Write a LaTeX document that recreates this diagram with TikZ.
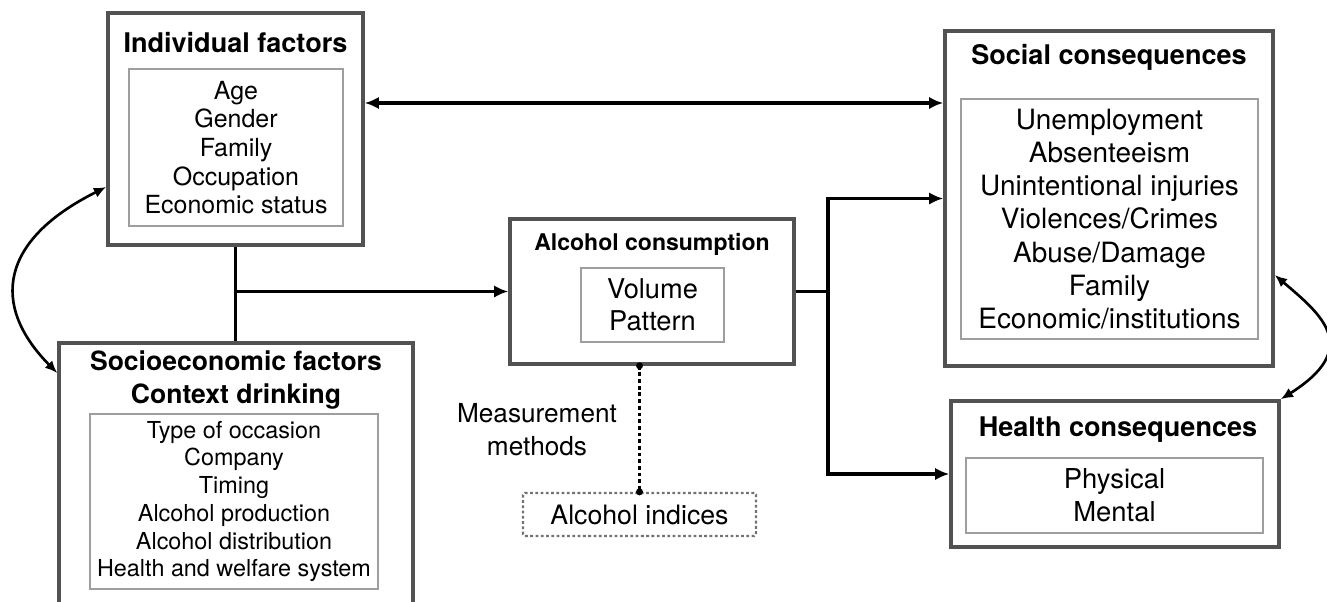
\documentclass[tikz,border=0pt]{standalone}
\usepackage{fontspec}
\setmainfont{TeX Gyre Heros}
\usetikzlibrary{arrows.meta}
\newdimen\px \px=0.2mm
\def\szTtl{\bfseries\fontsize{15.4}{19.3}\selectfont}
\def\szAlc{\bfseries\fontsize{13.1}{16}\selectfont}
\def\szBig{\fontsize{15.9}{18.95}\selectfont}
\def\szMid{\fontsize{14.2}{16.3}\selectfont}
\def\szSml{\fontsize{13.3}{15.8}\selectfont}
\tikzset{
  box/.style={draw=black!68, line width=2pt, inner sep=0pt},
  inbox/.style={draw=black!38, line width=0.7pt, inner sep=0pt, align=center},
  ttl/.style={font=\szTtl, align=center, inner sep=0pt},
  wire/.style={line width=1.9pt},
  arr/.style={line width=1.9pt, -{Latex[length=8pt,width=7pt]}},
  curvearr/.style={line width=1.5pt, {Latex[length=7pt,width=6pt]}-{Latex[length=7pt,width=6pt]}}
}

\begin{document}
\begin{tikzpicture}[x=0.2mm, y=-0.2mm]
	%%%%% START %%%%%
	\useasboundingbox (0,0) rectangle (1327,601);
	\clip (0,0) rectangle (1327,601);
	
	% individual factors
	\node[box, minimum width=255\px, minimum height=232\px] (ind) at (235.5,129) {};
	\node[ttl] (indT) at (235.5,43) {Individual factors};
	\node[inbox, minimum width=214\px, minimum height=157\px, font=\szMid] (indL) at (236,147.5)
		{Age\\Gender\\Family\\Occupation\\Economic status};
	
	% socioeconomic factors (runs off the page)
	\node[box, minimum width=354\px, minimum height=297\px] (soe) at (236,491.5) {};
	\node[ttl, font=\bfseries\fontsize{15.1}{19.3}\selectfont] (soeT) at (236,380) {Socioeconomic factors\\Context drinking};
	\node[inbox, minimum width=288\px, minimum height=175\px, font=\szSml] (soeL) at (234,501.5)
		{Type of occasion\\Company\\Timing\\Alcohol production\\Alcohol distribution\\Health and welfare system};
	
	% alcohol consumption
	\node[box, minimum width=284\px, minimum height=145\px] (alc) at (652,291.5) {};
	\node[ttl, font=\szAlc] (alcT) at (652,244) {Alcohol consumption};
	\node[inbox, minimum width=143\px, minimum height=74\px, font=\fontsize{15.5}{18.2}\selectfont] (alcL) at (652.5,305)
		{Volume\\Pattern};
	
	% indices
	\node[draw=black!55, dash pattern=on 1.6pt off 1.4pt, line width=1.3pt, rounded corners=1pt, minimum width=233\px,
		minimum height=43\px, inner sep=0pt, font=\fontsize{15.2}{18}\selectfont] (idx) at (639.5,514.5) {Alcohol indices};
	\node[align=center, inner sep=0pt, font=\fontsize{14.9}{18.8}\selectfont] (meas) at (537,429.5) {Measurement\\methods};
	
	% social consequences
	\node[box, minimum width=328\px, minimum height=335\px] (soc) at (1109,198.5) {};
	\node[ttl] (socT) at (1109,57) {Social consequences};
	\node[inbox, minimum width=297\px, minimum height=240\px, font=\szBig] (socL) at (1109.5,219)
		{Unemployment\\Absenteeism\\Unintentional injuries\\Violences/Crimes\\Abuse/Damage\\Family\\Economic/institutions};
	
	% health consequences
	\node[box, minimum width=328\px, minimum height=146\px] (hlth) at (1115,474) {};
	\node[ttl] (hlthT) at (1118,430) {Health consequences};
	\node[inbox, minimum width=297\px, minimum height=75\px, font=\fontsize{15.6}{18.8}\selectfont] (hlthL) at (1114.5,495.5)
		{Physical\\Mental};
	
	% connectors
	\draw[line width=1.9pt, {Latex[length=8pt,width=7pt]}-{Latex[length=8pt,width=7pt]}]
		(ind.east |- 0,103) -- (soc.west |- 0,103);
	\draw[wire] (ind.south) -- (ind.south |- soe.north);
	\coordinate (join) at (ind.south |- alc.west);
	\draw[arr] (join) -- (alc.west);
	\coordinate (fork) at (828,291.5);
	\draw[wire] (alc.east) -- (fork);
	\draw[arr] (fork) |- (soc.west);
	\draw[arr] (fork) |- (hlth.west);
	
	\draw[line width=1.3pt, dash pattern=on 2.2pt off 1.6pt] (idx.north |- alc.south) -- (idx.north);
	\fill (idx.north |- alc.south) circle (2pt);
	\fill (idx.north) circle (2pt);
	
	\draw[curvearr] (ind.west |- 0,187) .. controls (0,240) and (-10,305) .. (soe.west |- 0,373);
	\draw[curvearr] (soc.east |- 0,275) .. controls (1322,315) and (1362,348) .. (hlth.north east);
	
	%%%%% END %%%%%
\end{tikzpicture}
\end{document}
